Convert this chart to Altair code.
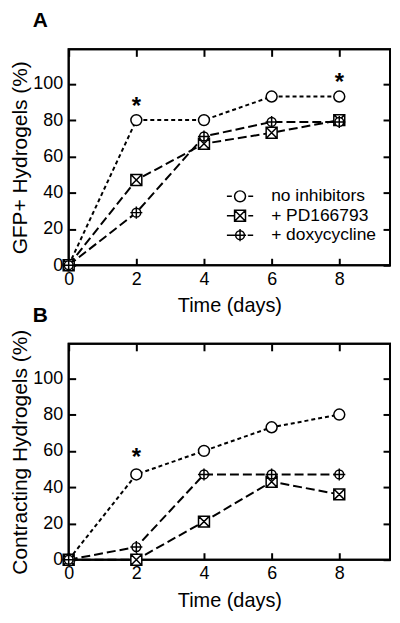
import altair as alt
import pandas as pd

# ---- data ----
days = [0, 2, 4, 6, 8]
series = ["no inhibitors", "+ PD166793", "+ doxycycline"]

gfp_none = [0, 80, 80, 93, 93]
gfp_pd = [0, 47, 67, 73, 80]
gfp_doxy = [0, 29, 71, 79, 79]

con_none = [0, 47, 60, 73, 80]
con_pd = [0, 0, 21, 43, 36]
con_doxy = [0, 7, 47, 47, 47]

gfp_star_days = [2, 8]
gfp_star_vals = [91, 104]
con_star_days = [2]
con_star_vals = [60]

x_ticks = [0, 2, 4, 6, 8]
y_ticks = [0, 20, 40, 60, 80, 100]

# ---- styles ----
FONT = "Liberation Sans"
SQX = "M-1,-1L1,-1L1,1L-1,1Z M-1,-1L1,1 M1,-1L-1,1"
DOXY = "M-0.8,0A0.8,0.8,0,1,1,0.8,0A0.8,0.8,0,1,1,-0.8,0Z M0,-1.1L0,1.1 M-1.1,0L1.1,0"
marker_paths = ["circle", SQX, DOXY]
dash_patterns = [[4, 3], [9, 4], [9, 4]]
legend_paths = [
    "M-2.4,0L-1.5,0 M1.5,0L2.4,0 M-1,0A1,1,0,1,1,1,0A1,1,0,1,1,-1,0Z",
    "M-2.4,0L-1,0 M1.5,0L2.4,0 M-1,-1L1,-1L1,1L-1,1Z M-1,-1L1,1 M1,-1L-1,1",
    "M-2.4,0L-0.8,0 M1.4,0L2.4,0 M-0.8,0A0.8,0.8,0,1,1,0.8,0A0.8,0.8,0,1,1,-0.8,0Z M0,-1.1L0,1.1 M-1.1,0L1.1,0",
]

W, H = 323, 217


def long_df(vals_list):
    rows = []
    for s, vals in zip(series, vals_list):
        for d, v in zip(days, vals):
            rows.append({"series": s, "day": d, "value": v})
    return pd.DataFrame(rows)


def panel(df, star_days, star_vals, ytitle, letter, with_legend):
    xs = alt.Scale(domain=[0, 9.5], nice=False, zero=False)
    ys = alt.Scale(domain=[0, 119], nice=False)

    x_bottom = alt.Axis(
        orient="bottom", values=x_ticks, offset=-7, tickSize=7, tickWidth=2,
        tickColor="black", domain=False, grid=False, labelPadding=5,
        labelFontSize=18, labelFont=FONT, labelColor="black", labelFlush=False,
        title="Time (days)", titleFontSize=20, titleFont=FONT,
        titleFontWeight="normal", titleColor="black", titlePadding=8, format="d",
    )
    y_left = alt.Axis(
        orient="left", values=y_ticks, offset=-7, tickSize=7, tickWidth=2,
        tickColor="black", domain=False, grid=False, labelPadding=6,
        labelFontSize=18, labelFont=FONT, labelColor="black", labelFlush=False,
        title=ytitle, titleFontSize=21, titleFont=FONT,
        titleFontWeight="normal", titleColor="black", titlePadding=2, format="d",
    )
    x_top = alt.Axis(
        orient="top", values=x_ticks, offset=-7, tickSize=7, tickWidth=2,
        tickColor="black", domain=False, grid=False, labels=False, title=None,
    )
    y_right = alt.Axis(
        orient="right", values=y_ticks, offset=-7, tickSize=7, tickWidth=2,
        tickColor="black", domain=False, grid=False, labels=False, title=None,
    )

    frame = alt.Chart(pd.DataFrame({"f": [0]})).mark_rect(
        filled=False, stroke="black", strokeWidth=2
    ).encode(x=alt.value(0), x2=alt.value(W), y=alt.value(0), y2=alt.value(H))

    lines = alt.Chart(df).mark_line(color="black", strokeWidth=2).encode(
        x=alt.X("day:Q", scale=xs, axis=x_bottom),
        y=alt.Y("value:Q", scale=ys, axis=y_left),
        strokeDash=alt.StrokeDash("series:N", scale=alt.Scale(domain=series, range=dash_patterns), legend=None),
    )
    points = alt.Chart(df).mark_point(
        filled=True, fill="white", stroke="black", strokeWidth=1.5, size=121, opacity=1
    ).encode(
        x=alt.X("day:Q", scale=xs, axis=x_top),
        y=alt.Y("value:Q", scale=ys, axis=y_right),
        shape=alt.Shape("series:N", scale=alt.Scale(domain=series, range=marker_paths), legend=None),
    )
    star_df = pd.DataFrame({"day": star_days, "value": star_vals})
    stars = alt.Chart(star_df).mark_text(
        text="*", fontSize=24, font=FONT, fontWeight="bold", baseline="alphabetic", dy=14, color="black"
    ).encode(
        x=alt.X("day:Q", scale=xs, axis=None),
        y=alt.Y("value:Q", scale=ys, axis=None),
    )
    letter_mark = alt.Chart(pd.DataFrame({"label": [letter]})).mark_text(
        fontSize=21, font=FONT, fontWeight="bold", baseline="alphabetic", align="left", color="black"
    ).encode(
        text="label:N", x=alt.value(-36), y=alt.value(-22),
    )
    layers = [frame, lines, points, stars, letter_mark]
    if with_legend:
        leg = alt.Chart(df).mark_point(
            filled=True, fill="white", stroke="black", strokeWidth=1.5, size=121, opacity=1
        ).encode(
            x=alt.X("day:Q", scale=xs, axis=None),
            y=alt.Y("value:Q", scale=ys, axis=None),
            shape=alt.Shape(
                "series:N",
                scale=alt.Scale(domain=series, range=legend_paths),
                legend=alt.Legend(
                    title=None, orient="none", legendX=163.5, legendY=139,
                    symbolSize=121, labelFontSize=17.5,
                    labelFont=FONT, labelColor="black", labelOffset=22.5,
                    rowPadding=0.5, padding=0, labelLimit=300,
                ),
            ),
        ).transform_filter("datum.value > 1000")
        layers.append(leg)
    return alt.layer(*layers).resolve_scale(shape="independent").properties(width=W, height=H)


panel_a = panel(long_df([gfp_none, gfp_pd, gfp_doxy]), gfp_star_days, gfp_star_vals,
                "GFP+ Hydrogels (%)", "A", True)
panel_b = panel(long_df([con_none, con_pd, con_doxy]), con_star_days, con_star_vals,
                "Contracting Hydrogels (%)", "B", False)

chart = alt.vconcat(panel_a, panel_b, spacing=79, bounds="flush").properties(
    padding={"left": 0, "top": 0, "right": 0, "bottom": 0}
).configure_view(stroke="black", strokeWidth=2)

chart.save("out.html", embed_options={"renderer": "svg", "actions": False})
